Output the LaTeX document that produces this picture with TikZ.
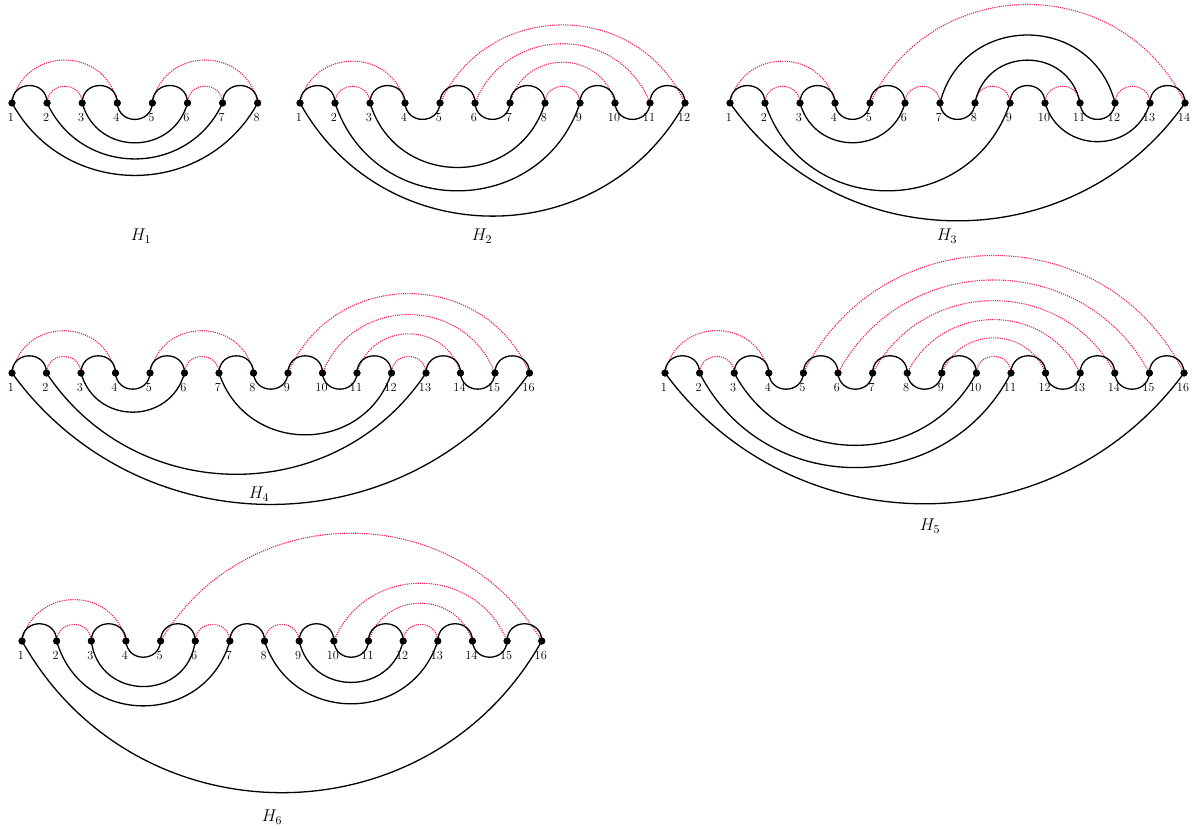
\RequirePackage{fix-cm}
\documentclass[tikz,border=0pt]{standalone}
\usepackage{fontspec}
\definecolor{rd}{RGB}{232,22,96}
\tikzset{
  dot/.style={circle,fill=black,inner sep=0pt,minimum size=7pt},
  lab/.style={inner sep=0pt,anchor=center,font=\fontsize{12.3}{14}\selectfont},
  hlab/.style={inner sep=0pt,anchor=center,font=\fontsize{17}{20}\selectfont},
  blk/.style={draw=black,line width=1.3pt},
  red/.style={draw=rd,line width=1.1pt,dash pattern=on 1.1pt off 1.1pt}
}
\newcommand\mkgraph[5]{%
  \foreach \i in {1,...,#2}{%
    \pgfmathsetmacro\xx{#3+(\i-1)*#4}%
    \node[dot] (#1-\i) at (\xx,-#5) {};
    \node[lab] (#1-\i-l) at (\xx-1,-#5-14.5) {\i};
  }}
\newcommand\uarcs[3]{%
  \foreach \ia/\ib/\rr in {#3}{%
    \pgfmathsetmacro\aphi{2*atan(2*\rr)}%
    \pgfmathsetmacro\ain{180-\aphi}%
    \pgfmathsetmacro\aloose{0.8514*(1+4*\rr*\rr)}%
    \draw[#2] (#1-\ia.center) to[out=\aphi,in=\ain,looseness=\aloose] (#1-\ib.center);
  }}
\newcommand\darcs[3]{%
  \foreach \ia/\ib/\rr in {#3}{%
    \pgfmathsetmacro\aphi{2*atan(2*\rr)}%
    \pgfmathsetmacro\aout{-\aphi}%
    \pgfmathsetmacro\ain{180+\aphi}%
    \pgfmathsetmacro\aloose{0.8514*(1+4*\rr*\rr)}%
    \draw[#2] (#1-\ia.center) to[out=\aout,in=\ain,looseness=\aloose] (#1-\ib.center);
  }}
\begin{document}
\begin{tikzpicture}[x=1pt,y=1pt]
\useasboundingbox (0,0) rectangle (1194,-829);
% vertices
\mkgraph{a}{8}{12}{35.1}{103}
\mkgraph{b}{12}{300}{35}{103}
\mkgraph{c}{14}{730}{35}{103}
\mkgraph{d}{16}{12}{34.5}{373}
\mkgraph{e}{16}{665}{34.6}{373}
\mkgraph{f}{16}{22}{34.65}{641}
% graph names
\node[hlab] (h1) at (141,-236) {$H_1$};
\node[hlab] (h2) at (482,-236) {$H_2$};
\node[hlab] (h3) at (947,-236) {$H_3$};
\node[hlab] (h4) at (259,-494) {$H_4$};
\node[hlab] (h5) at (930,-526) {$H_5$};
\node[hlab] (h6) at (272,-817) {$H_6$};
% H1
\uarcs{a}{red}{1/4/0.41,5/8/0.41,2/3/0.48,6/7/0.48}
\uarcs{a}{blk}{1/2/0.5,3/4/0.5,5/6/0.5,7/8/0.5}
\darcs{a}{blk}{4/5/0.47,3/6/0.38,2/7/0.32,1/8/0.296}
% H2
\uarcs{b}{red}{1/4/0.40,2/3/0.48,5/12/0.32,6/11/0.34,7/10/0.39,8/9/0.48}
\uarcs{b}{blk}{1/2/0.5,3/4/0.5,5/6/0.5,7/8/0.5,9/10/0.5,11/12/0.5}
\darcs{b}{blk}{4/5/0.47,6/7/0.47,10/11/0.47,3/8/0.37,2/9/0.36,1/12/0.295}
% H3
\uarcs{c}{red}{1/4/0.40,2/3/0.48,6/7/0.48,8/9/0.48,10/11/0.48,12/13/0.48,5/14/0.314}
\uarcs{c}{blk}{1/2/0.5,3/4/0.5,5/6/0.5,9/10/0.5,13/14/0.5,7/12/0.39,8/11/0.41}
\darcs{c}{blk}{4/5/0.47,7/8/0.47,11/12/0.47,3/6/0.38,10/13/0.37,2/9/0.36,1/14/0.26}
% H4
\uarcs{d}{red}{1/4/0.41,2/3/0.48,5/8/0.41,6/7/0.48,9/16/0.33,10/15/0.34,11/14/0.38,12/13/0.48}
\uarcs{d}{blk}{1/2/0.5,3/4/0.5,5/6/0.5,7/8/0.5,9/10/0.5,11/12/0.5,13/14/0.5,15/16/0.5}
\darcs{d}{blk}{4/5/0.47,8/9/0.47,10/11/0.47,14/15/0.47,3/6/0.38,7/12/0.36,2/13/0.268,1/16/0.255}
% H5
\uarcs{e}{red}{1/4/0.41,2/3/0.48,5/16/0.31,6/15/0.30,7/14/0.30,8/13/0.31,9/12/0.34,10/11/0.48}
\uarcs{e}{blk}{1/2/0.5,3/4/0.5,5/6/0.5,7/8/0.5,9/10/0.5,11/12/0.5,13/14/0.5,15/16/0.5}
\darcs{e}{blk}{4/5/0.47,6/7/0.47,8/9/0.47,12/13/0.47,14/15/0.47,3/10/0.30,2/11/0.305,1/16/0.253}
% H6
\uarcs{f}{red}{1/4/0.40,2/3/0.48,5/16/0.284,6/7/0.48,8/9/0.48,10/15/0.335,11/14/0.365,12/13/0.48}
\uarcs{f}{blk}{1/2/0.5,3/4/0.5,5/6/0.5,7/8/0.5,9/10/0.5,11/12/0.5,13/14/0.5,15/16/0.5}
\darcs{f}{blk}{4/5/0.47,10/11/0.47,14/15/0.47,3/6/0.44,2/7/0.376,9/12/0.40,8/13/0.364,1/16/0.293}
% redraw dots on top
\foreach \p/\n in {a/8,b/12,c/14,d/16,e/16,f/16}{
  \foreach \i in {1,...,\n}{ \fill (\p-\i.center) circle (3.5pt); }
}
\end{tikzpicture}
\end{document}
